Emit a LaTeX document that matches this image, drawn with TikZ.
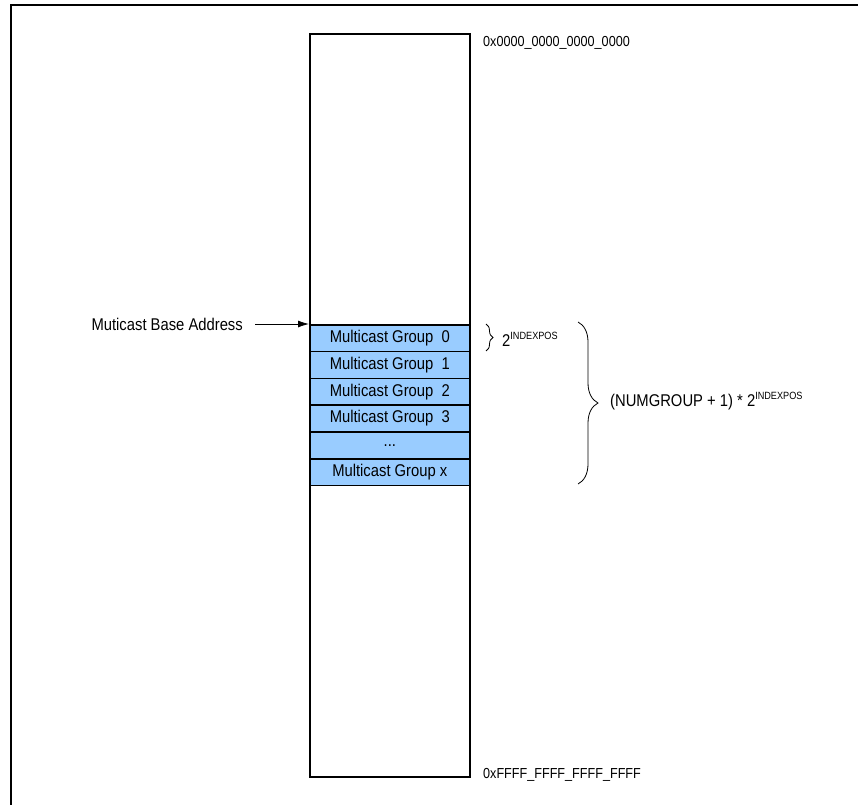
\documentclass[tikz,border=0pt]{standalone}
\usepackage{fontspec}
\setmainfont{Liberation Sans}[FakeStretch=0.87]
\usetikzlibrary{decorations.pathreplacing,arrows.meta}
\begin{document}
\begin{tikzpicture}[x=1pt,y=-1pt,
  lbl/.style={font=\fontsize{17}{19}\selectfont, inner sep=0pt},
  small/.style={font=\fontsize{14.5}{16}\selectfont, inner sep=0pt},
  grp/.style={draw, line width=1.6pt, minimum width=160pt, minimum height=26.8pt, inner sep=0pt, font=\fontsize{17}{19}\selectfont, anchor=north west},
  brc/.style={decorate, decoration={brace, amplitude=#1}, line width=0.8pt}]
\definecolor{grpblue}{RGB}{153,204,255}
\useasboundingbox (0,0) rectangle (858,805);
\fill[white] (0,0) rectangle (858,805);
\draw[line width=2pt] (858,5) -- (11,5) -- (11,805);
\node[draw, line width=1.6pt, minimum width=160pt, minimum height=743pt, inner sep=0pt, anchor=north west] (mem) at (309,33) {};
\node[grp, fill=grpblue] (g0) at (309,324) {Multicast Group\ \ 0};
\node[grp, fill=grpblue] (g1) at (309,350.8) {Multicast Group\ \ 1};
\node[grp, fill=grpblue] (g2) at (309,377.6) {Multicast Group\ \ 2};
\node[grp, fill=grpblue] (g3) at (309,404.4) {Multicast Group\ \ 3};
\node[grp, fill=grpblue] (gd) at (309,431.2) {...};
\node[grp, fill=grpblue] (gx) at (309,458) {Multicast Group x};
\node[small, anchor=west] (top) at (483,42.5) {0x0000\_0000\_0000\_0000};
\node[small, anchor=west] (bot) at (483,775) {0xFFFF\_FFFF\_FFFF\_FFFF};
\node[lbl, anchor=east] (base) at (243,324) {Muticast Base Address};
\draw[-{Latex[length=11pt,width=7pt]}, line width=0.8pt] (base.east) ++(12,0) coordinate (bs) -- (g0.north west);
\draw[brc=7pt] (486,324) coordinate (b1a) -- (486,351) coordinate (b1b);
\node[lbl, anchor=west] (e1) at (502,339) {2\raisebox{0.75ex}{\fontsize{10.5}{12}\selectfont INDEXPOS}};
\draw[brc=20pt] (578,322) coordinate (b2a) -- (578,484) coordinate (b2b);
\node[lbl, anchor=west] (e2) at (610,401) {(NUMGROUP + 1) * 2\raisebox{0.75ex}{\fontsize{10.5}{12}\selectfont INDEXPOS}};
\end{tikzpicture}
\end{document}
